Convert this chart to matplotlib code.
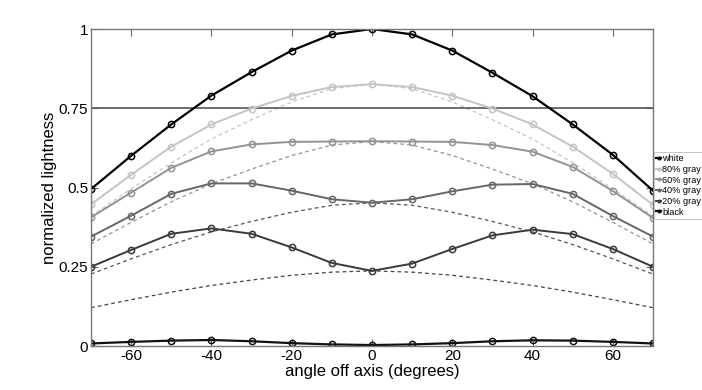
import numpy as np
import matplotlib
matplotlib.use('Agg')
import matplotlib.pyplot as plt

plt.rcParams['font.family'] = ['Liberation Sans', 'DejaVu Sans']
plt.rcParams['axes.unicode_minus'] = False

# angle off axis (degrees)
angles = [-70, -60, -50, -40, -30, -20, -10, 0, 10, 20, 30, 40, 50, 60, 70]

# measured lightness (solid lines)
white = [0.495, 0.600, 0.699, 0.790, 0.864, 0.932, 0.983, 1.000,
         0.983, 0.932, 0.862, 0.788, 0.699, 0.603, 0.490]
gray80 = [0.447, 0.540, 0.629, 0.699, 0.749, 0.789, 0.817, 0.826,
          0.817, 0.790, 0.749, 0.699, 0.629, 0.543, 0.445]
gray60 = [0.406, 0.484, 0.562, 0.614, 0.636, 0.644, 0.645, 0.646,
          0.645, 0.644, 0.634, 0.613, 0.565, 0.489, 0.404]
gray40 = [0.345, 0.411, 0.480, 0.513, 0.513, 0.490, 0.463, 0.452,
          0.463, 0.488, 0.509, 0.511, 0.480, 0.410, 0.345]
gray20 = [0.250, 0.303, 0.354, 0.371, 0.354, 0.311, 0.262, 0.237,
          0.260, 0.306, 0.349, 0.367, 0.353, 0.306, 0.250]
black = [0.008, 0.013, 0.017, 0.019, 0.015, 0.009, 0.005, 0.003,
         0.005, 0.009, 0.015, 0.018, 0.017, 0.013, 0.008]

# reference curves (dashed lines)
ref80 = [0.409, 0.496, 0.578, 0.653, 0.714, 0.770, 0.812, 0.826,
         0.812, 0.770, 0.714, 0.653, 0.578, 0.496, 0.409]
ref60 = [0.322, 0.390, 0.455, 0.512, 0.558, 0.601, 0.634, 0.645,
         0.634, 0.601, 0.558, 0.512, 0.455, 0.390, 0.322]
ref40 = [0.227, 0.275, 0.320, 0.360, 0.393, 0.422, 0.444, 0.452,
         0.444, 0.422, 0.393, 0.360, 0.320, 0.275, 0.227]
ref20 = [0.121, 0.146, 0.170, 0.191, 0.208, 0.223, 0.233, 0.237,
         0.233, 0.223, 0.208, 0.191, 0.170, 0.146, 0.121]

labels = ['white', '80% gray', '60% gray', '40% gray', '20% gray', 'black']
series = [white, gray80, gray60, gray40, gray20, black]
colors = ['#000000', '#c4c4c4', '#939393', '#666666', '#3a3a3a', '#111111']
refs = [(ref80, '#c4c4c4'), (ref60, '#939393'), (ref40, '#555555'), (ref20, '#444444')]

fig = plt.figure(figsize=(7.02, 3.9), dpi=100)
ax = fig.add_axes([0.1296, 0.1128, 0.8006, 0.8128])

for vals, c in refs:
    ax.plot(angles, vals, '--', color=c, lw=0.9, dashes=(3, 2.5))

ax.axhline(0.75, color='#555555', lw=1.2)

handles = []
for vals, c, lab in zip(series, colors, labels):
    lw = 1.6 if lab in ('white', 'black') else 1.4
    h, = ax.plot(angles, vals, '-', color=c, lw=lw, marker='o', markersize=4.5,
                 markerfacecolor='none', markeredgewidth=1.1, label=lab)
    handles.append(h)

ax.set_xlim(-70, 70)
ax.set_ylim(0, 1)
ax.set_xticks([-60, -40, -20, 0, 20, 40, 60])
ax.set_yticks([0, 0.25, 0.5, 0.75, 1])
ax.set_yticklabels(['0', '0.25', '0.5', '0.75', '1'])
ax.tick_params(direction='in', top=True, right=True, length=5, labelsize=11,
               color='#666666', pad=2)
for s in ax.spines.values():
    s.set_color('#777777')
    s.set_linewidth(1.0)

ax.set_xlabel('angle off axis (degrees)', fontsize=12, labelpad=1)
ax.set_ylabel('normalized lightness', fontsize=12, labelpad=1)

leg = fig.legend(handles=handles, loc='upper left', bbox_to_anchor=(0.931, 0.61),
                 fontsize=6.6, handlelength=0.6, handletextpad=0.08, borderpad=0.25,
                 labelspacing=0.18, markerscale=0.4, fancybox=False, framealpha=1,
                 borderaxespad=0)
leg.get_frame().set_edgecolor('#bbbbbb')
leg.get_frame().set_linewidth(0.6)

fig.savefig('out.png', dpi=100)
